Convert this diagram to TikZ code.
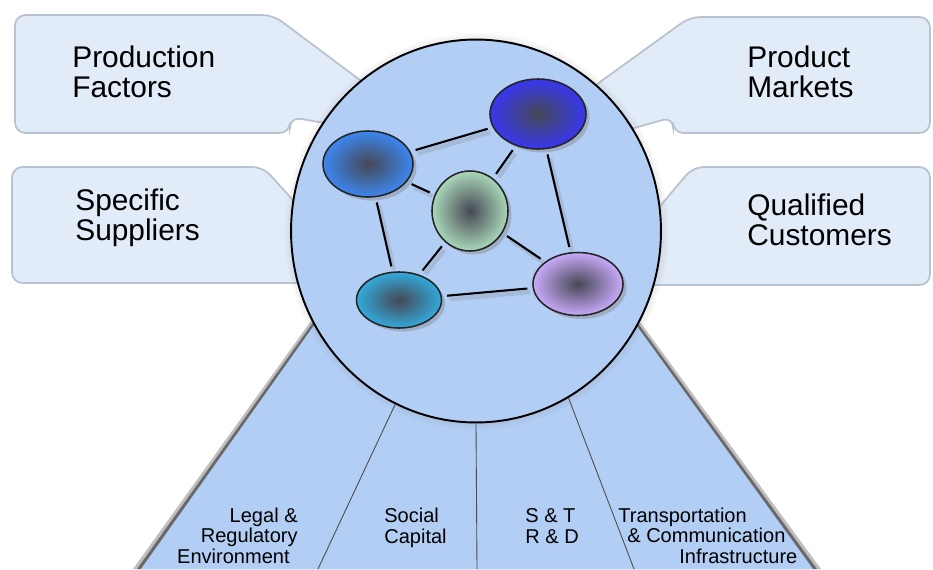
\documentclass[tikz,border=0pt]{standalone}
\usepackage{fontspec}
\setmainfont{Liberation Sans}
\usetikzlibrary{shapes.geometric,shadows}
\definecolor{hubblue}{RGB}{178,206,245}
\definecolor{boxfill}{RGB}{226,235,248}
\definecolor{boxline}{RGB}{184,194,208}
\definecolor{core}{RGB}{70,72,84}
\definecolor{clusterA}{RGB}{60,135,240}
\definecolor{clusterB}{RGB}{55,55,240}
\definecolor{clusterC}{RGB}{170,215,185}
\definecolor{clusterD}{RGB}{50,170,220}
\definecolor{clusterE}{RGB}{200,170,250}

\begin{document}
\begin{tikzpicture}[x=0.02cm, y=-0.02cm,
    callout/.style ={fill=boxfill, draw=boxline, line width=1pt, rounded corners=6pt},
    bigtext/.style ={inner sep=0pt, align=left, font=\fontsize{17}{17}\selectfont},
    smalltext/.style ={inner sep=0pt, font=\fontsize{11.4}{11.4}\selectfont},
    cluster/.style ={ellipse, draw=black!85, line width=0.9pt, inner sep=0pt,
       inner color=core, outer color=#1,
       drop shadow={shadow xshift=2pt, shadow yshift=-2pt, opacity=0.4}},
    link/.style ={line width=1.2pt, shorten >=3pt, shorten <=3pt,
       preaction={draw=black!50, line width=2.5pt, opacity=0.25,
       transform canvas={xshift=1.5pt, yshift=-2pt}}},
    divider/.style ={draw=black!70, line width=0.5pt}]
   \useasboundingbox (0,0) rectangle (933,569);

   \draw[callout] (15,15) -- (273,15) -- (380,95) -- (330,124) -- (290,117) -- (290,133) -- (15,133) -- cycle;
   \draw[callout] (12,167) -- (263,167) -- (320,230) -- (320,283) -- (12,283) -- cycle;
   \draw[callout] (690,17) -- (930,17) -- (930,133) -- (673,133) -- (673,117) -- (610,135) -- (582,95) -- cycle;
   \draw[callout] (693,167) -- (930,167) -- (930,285) -- (640,285) -- (640,230) -- cycle;

   \fill[black, opacity=0.25] (326,300) -- (133,569) -- (821,569) -- (624,300) -- cycle;
   \fill[black, opacity=0.45] (329,300) -- (137,569) -- (817,569) -- (621,300) -- cycle;
   \fill[hubblue] (332,300) -- (141,569) -- (813,569) -- (618,300) -- cycle;

   \node[ellipse, minimum width=7.4cm, minimum height=7.66cm, fill=hubblue, draw=black,
      line width=1.1pt, circular drop shadow={shadow scale=1.04, shadow xshift=0pt,
      shadow yshift=0pt, opacity=0.6}] (hub) at (476,231) {};

   \coordinate (b1) at (318,569);
   \coordinate (b2) at (477,569);
   \coordinate (b3) at (634,569);
   \draw[divider] (hub.-115) -- (b1);
   \draw[divider] (hub.south) -- (b2);
   \draw[divider] (hub.-61) -- (b3);

   \node[cluster=clusterA, minimum width=1.8cm, minimum height=1.32cm] (A) at (368,164) {};
   \node[cluster=clusterB, minimum width=1.92cm, minimum height=1.4cm] (B) at (538,114) {};
   \node[cluster=clusterC, minimum width=1.52cm, minimum height=1.6cm] (C) at (470,211) {};
   \node[cluster=clusterD, minimum width=1.7cm, minimum height=1.12cm] (D) at (399,300) {};
   \node[cluster=clusterE, minimum width=1.8cm, minimum height=1.26cm] (E) at (578,284) {};

   \draw[link] (A) -- (B);
   \draw[link] (A) -- (C);
   \draw[link] (B) -- (C);
   \draw[link] (B) -- (E);
   \draw[link] (A) -- (D);
   \draw[link] (C) -- (D);
   \draw[link] (C) -- (E);
   \draw[link] (D) -- (E);

   \node[bigtext, anchor=base west] (pf) at (72,97) {Production\\Factors};
   \node[bigtext, anchor=base west] (ss) at (75,240) {Specific\\Suppliers};
   \node[bigtext, anchor=base west] (pm) at (747,97) {Product\\Markets};
   \node[bigtext, anchor=base west] (qc) at (747,245) {Qualified\\Customers};

   \node[smalltext, align=right, anchor=base east] (legal) at (298,563) {Legal \&\\Regulatory\\Environment\hspace*{0.16cm}};
   \node[smalltext, align=left, anchor=base west] (social) at (384,543) {Social\\Capital};
   \node[smalltext, align=left, anchor=base west] (st) at (525,543) {S \& T\\R \& D};
   \node[smalltext, align=left, anchor=base west] (transp) at (618,563) {Transportation\\\hspace*{0.18cm}\& Communication\\\hspace*{1.22cm}Infrastructure};
 \end{tikzpicture}
\end{document}
